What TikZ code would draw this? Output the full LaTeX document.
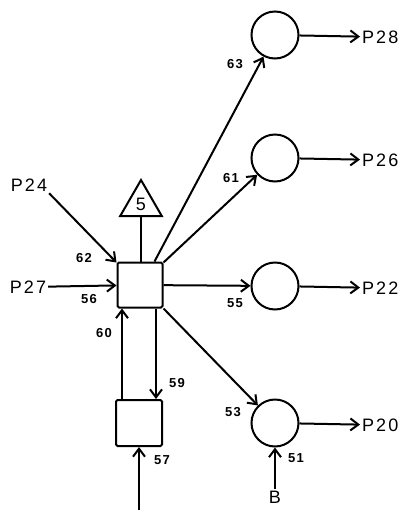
\documentclass[tikz,border=0pt]{standalone}
\usepackage{fontspec}
\setmainfont{Liberation Sans}
\newfontfamily\plfont[LetterSpace=12]{Liberation Sans}
\newfontfamily\nmfont[LetterSpace=10]{Liberation Sans}
\usetikzlibrary{arrows.meta,shapes.geometric}

\begin{document}
\begin{tikzpicture}
         [x=1pt,y=-1pt,line width=2pt,>={Straight Barb[length=8pt,width=12pt,line width=2pt]},
          circ/.style={circle,draw,line width=2pt,minimum size=47pt,inner sep=0pt},
          sqbox/.style={rectangle,draw,rounded corners=1.5pt,line width=2pt,minimum size=45pt,inner sep=0pt},
          plab/.style={inner sep=1pt,font=\plfont\fontsize{18}{18}\selectfont},
          numlab/.style={inner sep=0pt,font=\nmfont\bfseries\fontsize{13}{13}\selectfont}]
         \useasboundingbox (0,0) rectangle (409,512);
         % boxes and places
         \node[sqbox] (sq) at (140,285) {};
         \node[sqbox,minimum size=46pt] (lo) at (139,423) {};
         \node[regular polygon,regular polygon sides=3,draw,line width=2pt,minimum size=48pt,inner sep=0pt,
               font=\fontsize{18}{18}\selectfont] (tri) at (141,204) {5};
         \node[circ] (c28) at (275,35) {};
         \node[circ] (c26) at (275,158) {};
         \node[circ] (c22) at (275,286) {};
         \node[circ] (c20) at (275,423) {};
         % outer texts
         \node[plab] (p24) at (29,185) {P24};
         \node[plab] (p27) at (28,287) {P27};
         \node[plab,anchor=west] (p28) at (360,37) {P28};
         \node[plab,anchor=west] (p26) at (360,160) {P26};
         \node[plab,anchor=west] (p22) at (360,288) {P22};
         \node[plab,anchor=west] (p20) at (360,425) {P20};
         \node[plab] (b) at (275,497) {B};
         \coordinate (in) at (139,510);
         % connectors
         \draw (tri.south) -- (tri.south |- sq.north);
         \draw[->] (p24.south east) -- ([yshift=-1pt]sq.north west);
         \draw[->] (p27) -- (sq);
         \draw[->] ([xshift=-9pt]sq.north east) -- (c28);
         \draw[->] ([yshift=-1pt]sq.north east) -- (c26);
         \draw[->] (sq) -- (c22);
         \draw[->] (sq.south east) -- (c20);
         \draw[->] ([xshift=-17pt]lo.north) -- ([xshift=-17pt]lo.north |- sq.south);
         \draw[->] ([xshift=17pt]lo.north |- sq.south) -- ([xshift=17pt]lo.north);
         \draw[->] (in) -- (lo);
         \draw[->] (b) -- (c20);
         \foreach \from/\to in {c28/p28, c26/p26, c22/p22, c20/p20}
            \draw[->] (\from) -- (\to);
         % arc numbers
         \node[numlab] (n62) at (84,258) {62};
         \node[numlab] (n56) at (89,299) {56};
         \node[numlab] (n60) at (104,333) {60};
         \node[numlab] (n59) at (177,383) {59};
         \node[numlab] (n57) at (162,460) {57};
         \node[numlab] (n63) at (235,64) {63};
         \node[numlab] (n61) at (231,178) {61};
         \node[numlab] (n55) at (235,303) {55};
         \node[numlab] (n53) at (233,412) {53};
         \node[numlab] (n51) at (296,458) {51};
       \end{tikzpicture}
\end{document}
